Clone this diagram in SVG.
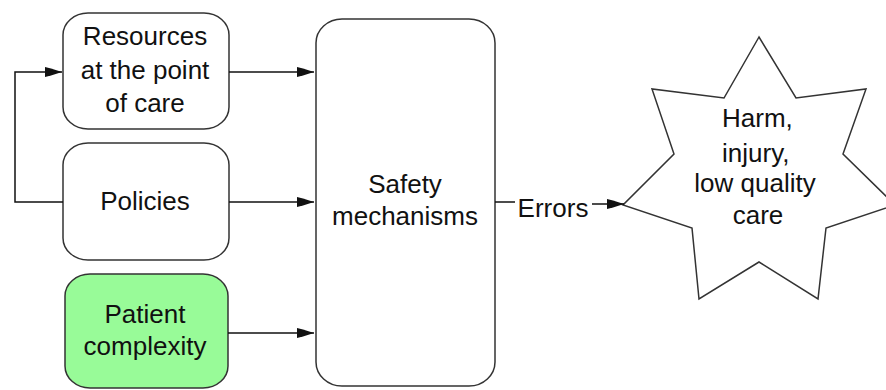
<svg xmlns="http://www.w3.org/2000/svg" width="886" height="390" viewBox="0 0 886 390">
<style>
.box{fill:#fff;stroke:#333;stroke-width:1.5}
.green{fill:#98fb98}
.t{font-family:"Liberation Sans",Arial,sans-serif;font-size:26px;fill:#111;text-anchor:middle}
.ln{fill:none;stroke:#111;stroke-width:1.5}
</style>
<defs>
<marker id="ah" viewBox="0 0 17 10" refX="17" refY="5" markerWidth="17" markerHeight="10" markerUnits="userSpaceOnUse" orient="auto">
<path d="M0,0 L6,1.5 L17,5 L6,8.5 L0,10 Z" fill="#111"/>
</marker>
</defs>
<rect width="886" height="390" fill="#fff"/>
<g id="resources">
<rect class="box" x="63" y="13" width="166" height="116" rx="25" ry="22"/>
<text class="t" x="145" y="45">Resources</text>
<text class="t" x="145" y="79">at the point</text>
<text class="t" x="145" y="112">of care</text>
</g>
<g id="policies">
<rect class="box" x="63" y="143" width="166" height="117" rx="25" ry="22"/>
<text class="t" x="145" y="210">Policies</text>
</g>
<g id="patient">
<rect class="box green" x="65" y="274" width="163" height="114" rx="25" ry="22"/>
<text class="t" x="145" y="323">Patient</text>
<text class="t" x="145" y="355">complexity</text>
</g>
<g id="safety">
<rect class="box" x="316" y="19" width="179" height="367" rx="26" ry="24"/>
<text class="t" x="405" y="193">Safety</text>
<text class="t" x="405" y="225">mechanisms</text>
</g>
<g id="harm">
<polygon class="box" points="759,37 724,98 652,89 674,154 623,205 692,228 699,299 759,262 818,299 826,228 895,205 843,154 866,89 796,98"/>
<text class="t" x="722" y="127" style="text-anchor:start">Harm,</text>
<text class="t" x="722" y="162" style="text-anchor:start">injury,</text>
<text class="t" x="755" y="192">low quality</text>
<text class="t" x="758" y="224">care</text>
</g>
<g id="connectors">
<line class="ln" x1="229" y1="72" x2="314" y2="72" marker-end="url(#ah)"/>
<line class="ln" x1="229" y1="202" x2="314" y2="202" marker-end="url(#ah)"/>
<line class="ln" x1="228" y1="333" x2="314" y2="333" marker-end="url(#ah)"/>
<polyline class="ln" points="63,202 15,202 15,72 62,72" marker-end="url(#ah)"/>
<line class="ln" x1="495" y1="202" x2="515" y2="202"/>
<text class="t" x="553" y="217">Errors</text>
<line class="ln" x1="592" y1="204" x2="624" y2="204" marker-end="url(#ah)"/>
</g>
</svg>
